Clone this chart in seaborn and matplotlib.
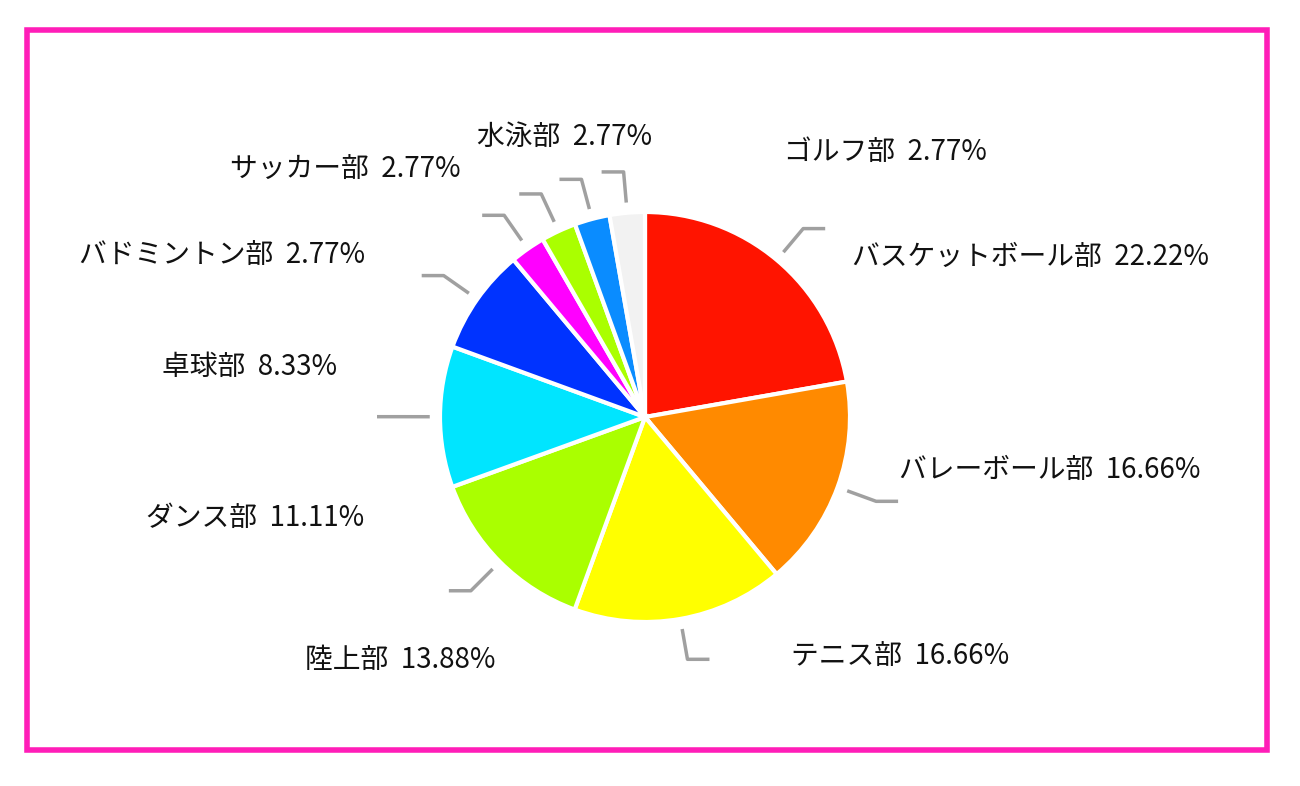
import numpy as np
import matplotlib
matplotlib.use("Agg")
import matplotlib.pyplot as plt
import seaborn as sns
from matplotlib.patches import Rectangle

sns.set_theme(style="white")
plt.rcParams['font.family'] = ['Noto Sans CJK JP', 'DejaVu Sans']

clubs = ['バスケットボール部', 'バレーボール部', 'テニス部', '陸上部', 'ダンス部',
         '卓球部', 'バドミントン部', 'サッカー部', '水泳部', 'ゴルフ部']
shares = [22.22, 16.66, 16.66, 13.88, 11.11, 8.33, 2.77, 2.77, 2.77, 2.77]
colors = ['#FF1400', '#FF8A00', '#FFFF00', '#AAFF00', '#00E5FF',
          '#0033FF', '#FF00FF', '#AAFF00', '#0A8CFF', '#F2F2F2']
# label text anchor positions (pixels, top-left origin)
label_pos = [(1030, 257), (1050, 470), (900, 657), (400, 660), (255, 518),
             (250, 367), (222, 256), (345, 170), (565, 137), (885, 152)]

W, H = 1300, 786
fig = plt.figure(figsize=(W / 100, H / 100), dpi=100)
ax = fig.add_axes([0, 0, 1, 1])
ax.set_xlim(0, W)
ax.set_ylim(0, H)
ax.set_aspect('equal')
ax.axis('off')

cx, cy, R = 645, H - 417, 205
wedges, _ = ax.pie(shares, colors=colors, startangle=90, counterclock=False,
                   center=(cx, cy), radius=R, frame=True,
                   wedgeprops=dict(edgecolor='white', linewidth=3))
ax.set_xlim(0, W)
ax.set_ylim(0, H)
ax.axis('off')

for w, name, val, (lx, ly) in zip(wedges, clubs, shares, label_pos):
    ang = np.deg2rad((w.theta1 + w.theta2) / 2)
    dx, dy = np.cos(ang), np.sin(ang)
    p0 = (cx + 1.05 * R * dx, cy + 1.05 * R * dy)
    p1 = (cx + 1.2 * R * dx, cy + 1.2 * R * dy)
    side = 1 if dx >= 0 else -1
    p2 = (p1[0] + side * 22, p1[1])
    ax.plot([p0[0], p1[0], p2[0]], [p0[1], p1[1], p2[1]],
            color='#A0A0A0', lw=2.5, solid_capstyle='butt')
    ax.text(lx, H - ly, f'{name}  {val:.2f}%', fontsize=20, color='#111111',
            ha='center', va='center')

fig.patches.append(Rectangle((27 / W, 1 - 750 / H), (1267 - 27) / W, (750 - 30) / H,
                             transform=fig.transFigure, fill=False,
                             edgecolor='#FF1DB8', linewidth=4))
fig.savefig('out.png', dpi=100)
